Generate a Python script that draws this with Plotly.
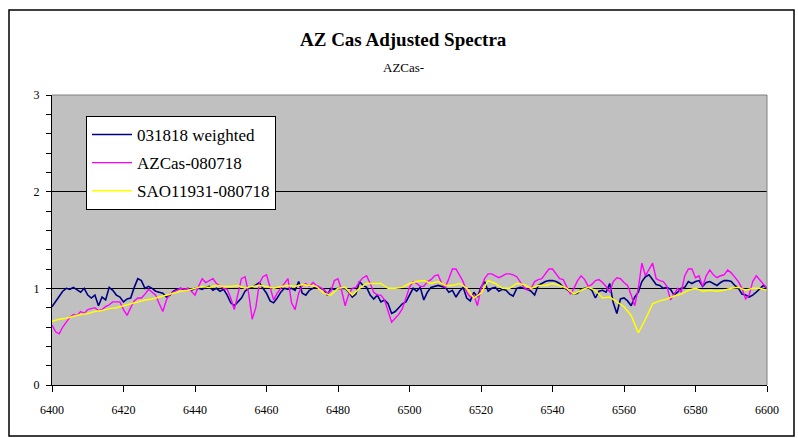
import plotly.graph_objects as go

# ---- data ----
wl_1A = list(range(6400, 6601))          # 1 Angstrom grid for the two noisy spectra
wl_2A = list(range(6400, 6601, 2))       # 2 Angstrom grid for the comparison star

weighted_031818 = [
    # 6400-6440
    0.81, 0.86, 0.92, 0.97, 1.00, 0.99, 1.01, 0.98, 0.96, 1.00,
    0.93, 0.90, 0.93, 0.82, 0.91, 0.88, 1.01, 0.98, 0.93, 0.91,
    0.86, 0.89, 0.90, 1.01, 1.10, 1.08, 1.00, 1.02, 1.00, 0.97,
    0.96, 0.95, 0.91, 0.93, 0.97, 0.99, 1.00, 0.98, 1.00, 0.98,
    1.00,
    # 6441-6480
    1.00, 0.99, 1.01, 1.02, 0.98, 1.00, 0.97, 0.99, 0.93, 0.85,
    0.82, 0.86, 0.90, 0.97, 1.00, 1.01, 1.04, 1.06, 1.00, 0.95,
    0.87, 0.85, 0.90, 0.96, 1.00, 0.99, 1.00, 0.98, 1.07, 0.95,
    0.93, 0.98, 1.00, 1.02, 1.00, 0.99, 0.93, 1.00, 0.99, 1.00,
    # 6481-6518
    1.00, 1.00, 0.96, 0.91, 0.94, 1.07, 1.03, 1.01, 0.93, 0.89,
    0.93, 0.86, 0.88, 0.84, 0.74, 0.76, 0.80, 0.84, 0.86, 0.93,
    1.00, 0.97, 1.01, 0.88, 0.96, 1.01, 1.02, 1.03, 1.02, 1.01,
    0.96, 0.98, 0.91, 0.97, 1.01, 0.90, 0.87, 0.96,
    # 6519-6556
    0.91, 1.01, 1.07, 0.97, 1.00, 1.01, 0.97, 0.99, 0.98, 0.94,
    0.92, 1.00, 1.01, 1.00, 0.99, 0.97, 0.93, 1.03, 1.05, 1.07,
    1.08, 1.08, 1.07, 1.05, 1.01, 0.99, 0.96, 0.94, 0.95, 0.99,
    1.00, 1.01, 0.98, 0.90, 0.97, 0.98, 0.96, 1.05,
    # 6557-6600
    0.85, 0.74, 0.89, 0.90, 0.87, 0.82, 0.91, 0.96, 1.07, 1.12,
    1.14, 1.09, 1.04, 1.03, 1.00, 1.01, 0.99, 0.93, 0.96, 1.00,
    1.01, 1.07, 1.05, 1.07, 1.08, 1.02, 1.06, 1.07, 1.05, 1.03,
    1.06, 1.08, 1.08, 1.07, 1.03, 1.00, 0.94, 0.93, 0.91, 0.93,
    0.96, 1.00, 1.03, 1.00,
]

azcas_080718 = [
    # 6400-6440
    0.62, 0.55, 0.53, 0.60, 0.65, 0.70, 0.73, 0.72, 0.76, 0.74,
    0.78, 0.79, 0.80, 0.77, 0.78, 0.81, 0.83, 0.86, 0.86, 0.86,
    0.78, 0.72, 0.80, 0.87, 0.90, 0.90, 0.94, 0.99, 0.96, 0.93,
    0.84, 0.76, 0.88, 0.94, 0.96, 0.98, 1.00, 0.99, 1.00, 0.97,
    0.93,
    # 6441-6480
    1.02, 1.10, 1.06, 1.08, 1.10, 1.05, 1.02, 1.00, 0.99, 0.90,
    0.78, 0.95, 1.10, 1.12, 0.95, 0.68, 0.80, 1.05, 1.12, 1.14,
    1.00, 0.88, 0.95, 1.00, 1.04, 1.10, 0.85, 0.78, 0.95, 1.03,
    1.05, 1.02, 1.06, 1.03, 1.01, 0.99, 0.95, 0.97, 1.08, 1.10,
    # 6481-6518
    0.98, 0.82, 0.94, 1.00, 1.01, 1.07, 1.11, 1.13, 1.05, 0.96,
    0.93, 0.93, 0.88, 0.76, 0.65, 0.69, 0.73, 0.79, 0.89, 1.01,
    1.07, 1.05, 1.02, 1.02, 1.07, 1.09, 1.13, 1.14, 1.05, 1.01,
    1.10, 1.20, 1.20, 1.13, 1.07, 0.96, 0.91, 0.93,
    # 6519-6556
    0.82, 1.00, 1.10, 1.15, 1.15, 1.13, 1.11, 1.13, 1.15, 1.15,
    1.14, 1.12, 1.07, 1.01, 0.98, 1.00, 1.07, 1.09, 1.10, 1.15,
    1.20, 1.20, 1.15, 1.10, 1.09, 1.02, 0.94, 1.00, 1.08, 1.13,
    1.09, 1.02, 1.04, 1.08, 1.09, 1.06, 1.02, 0.96,
    # 6557-6600
    1.07, 1.11, 1.10, 1.06, 1.03, 0.93, 0.82, 1.00, 1.26, 1.13,
    1.20, 1.26, 1.10, 1.08, 1.07, 1.02, 0.88, 0.94, 1.00, 0.96,
    1.13, 1.20, 1.20, 1.11, 1.13, 1.02, 1.13, 1.19, 1.14, 1.11,
    1.13, 1.14, 1.19, 1.16, 1.12, 1.07, 1.00, 0.89, 0.93, 1.07,
    1.13, 1.09, 1.05, 1.00,
]

sao11931_080718 = [
    # 6400-6440
    0.66, 0.68, 0.69, 0.71, 0.73, 0.74, 0.76, 0.77, 0.79, 0.80,
    0.82, 0.84, 0.86, 0.88, 0.89, 0.91, 0.93, 0.95, 0.97, 0.98,
    1.00,
    # 6442-6480
    1.02, 1.01, 1.03, 1.02, 1.02, 1.03, 1.00, 1.02, 1.03, 1.02,
    1.00, 1.02, 1.03, 1.02, 1.04, 1.03, 1.02, 0.95, 0.93, 1.00,
    # 6482-6520
    1.01, 0.93, 1.00, 1.05, 1.05, 1.05, 1.00, 1.00, 1.01, 1.05,
    1.07, 1.08, 1.05, 1.07, 1.03, 1.03, 1.05, 1.00, 0.90, 0.95,
    # 6522-6600
    1.08, 1.05, 1.00, 1.00, 1.05, 1.04, 1.00, 1.03, 1.03, 1.05,
    1.03, 1.00, 0.94, 0.98, 1.01, 0.98, 0.90, 0.91, 0.86, 0.81,
    0.72, 0.54, 0.68, 0.84, 0.87, 0.89, 0.92, 0.94, 0.98, 1.00,
    0.97, 0.98, 0.97, 0.98, 1.00, 1.01, 0.98, 1.00, 1.00, 0.98,
]

series_names = ["031818 weighted", "AZCas-080718", "SAO11931-080718"]
series_colors = ["#000080", "#FF00FF", "#FFFF00"]

title_text = "AZ Cas Adjusted Spectra"
subtitle_text = "AZCas-"

# ---- figure ----
FONT = "Liberation Serif"
W, H = 798, 438
L, R, T, B = 52, 31, 95, 53
pw, ph = W - L - R, H - T - B

fig = go.Figure()
xs = [wl_1A, wl_1A, wl_2A]
ys = [weighted_031818, azcas_080718, sao11931_080718]
widths = [1.6, 1.4, 1.5]
for i in range(3):
    fig.add_trace(go.Scatter(
        x=xs[i], y=ys[i], mode="lines", name=series_names[i],
        line=dict(color=series_colors[i], width=widths[i]),
        legendgroup=f"g{i}",
    ))

def px_x(p):
    return (p - L) / pw

def px_y(p):
    return (H - B - p) / ph

fig.update_layout(
    width=W, height=H,
    margin=dict(l=L, r=R, t=T, b=B),
    paper_bgcolor="white",
    plot_bgcolor="#C0C0C0",
    font=dict(family=FONT, size=12, color="black"),
    showlegend=True,
    legend=dict(
        x=px_x(86), y=px_y(116), xanchor="left", yanchor="top",
        bgcolor="white", bordercolor="black", borderwidth=1,
        font=dict(family=FONT, size=17, color="black"),
        tracegroupgap=3, itemwidth=40,
    ),
    xaxis=dict(
        range=[6400, 6600], tick0=6400, dtick=20,
        ticks="outside", ticklen=6, tickcolor="black",
        showline=True, linecolor="black", linewidth=1,
        showgrid=False, zeroline=False,
        tickfont=dict(family=FONT, size=12, color="black"),
        ticklabelstandoff=8,
    ),
    yaxis=dict(
        range=[0, 3], tick0=0, dtick=1,
        ticks="outside", ticklen=5, tickcolor="black",
        showline=True, linecolor="black", linewidth=1,
        showgrid=True, gridcolor="black", gridwidth=1,
        zeroline=False,
        minor=dict(tick0=0, dtick=0.2, ticks="outside", ticklen=5,
                   tickcolor="black", showgrid=False),
        tickfont=dict(family=FONT, size=12, color="black"),
        ticklabelstandoff=4,
    ),
    annotations=[
        dict(text=f"<b>{title_text}</b>", xref="paper", yref="paper",
             x=px_x(403), y=px_y(40), xanchor="center", yanchor="middle",
             showarrow=False, font=dict(family=FONT, size=19, color="black")),
        dict(text=subtitle_text, xref="paper", yref="paper",
             x=px_x(403), y=px_y(68), xanchor="center", yanchor="middle",
             showarrow=False, font=dict(family=FONT, size=13, color="black")),
    ],
    shapes=[
        # outer chart border
        dict(type="rect", xref="paper", yref="paper",
             x0=px_x(9), x1=px_x(794), y0=px_y(436), y1=px_y(10),
             line=dict(color="black", width=1.5), fillcolor="rgba(0,0,0,0)", layer="above"),
        # plot-area frame (top/right in gray)
        dict(type="line", xref="paper", yref="paper", x0=0, x1=1, y0=1, y1=1,
             line=dict(color="#808080", width=1)),
        dict(type="line", xref="paper", yref="paper", x0=1, x1=1, y0=0, y1=1,
             line=dict(color="#808080", width=1)),
    ],
)

fig.write_html("out.html", config={"displayModeBar": False},
               post_script="document.body.style.margin='0';")
